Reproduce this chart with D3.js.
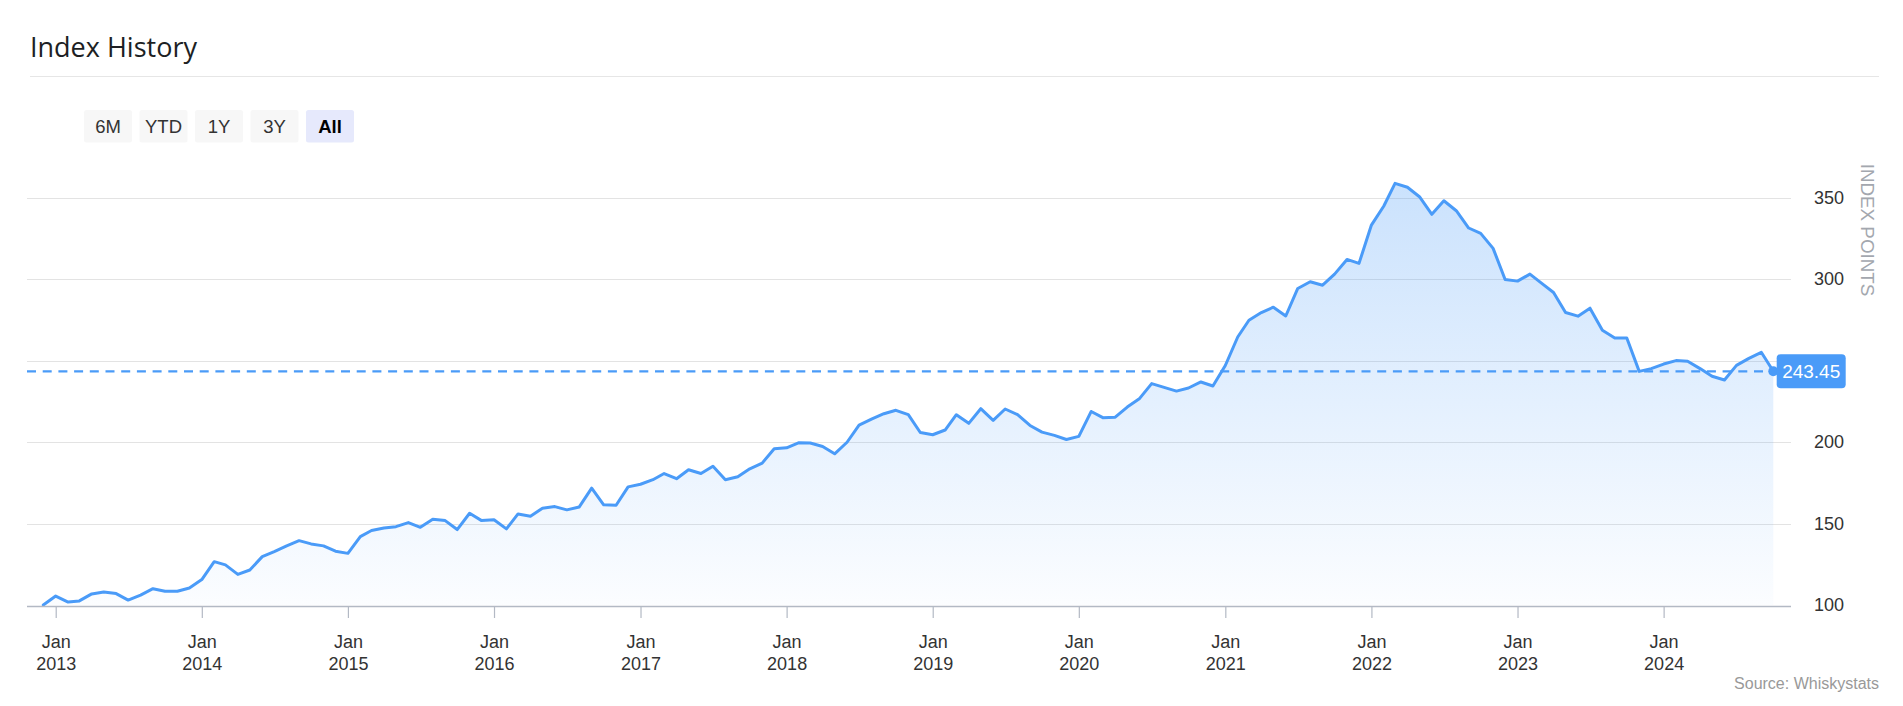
<!DOCTYPE html>
<html>
<head>
<meta charset="utf-8">
<script src="https://cdn.jsdelivr.net/npm/d3@7"></script>
<style>
  html, body { margin: 0; padding: 0; background: #ffffff; }
  svg { display: block; }
</style>
</head>
<body>
<svg id="chart" width="1903" height="706"></svg>
<script>
// ---------------- DATA ----------------
const chartTitle = "Index History";
const rangeButtons = ["6M", "YTD", "1Y", "3Y", "All"];
const activeButton = "All";
const yAxisTitle = "INDEX POINTS";
const sourceText = "Source: Whiskystats";
const startMonth = "2012-12-01";          // first monthly observation
const yTickValues = [100, 150, 200, 250, 300, 350];
const xTickYears = [2013, 2014, 2015, 2016, 2017, 2018, 2019, 2020, 2021, 2022, 2023, 2024];
const xTickMonthLabel = "Jan";
const lastValueLabel = "243.45";
const indexValues = [
  100.0,
  105.5, 101.8, 102.5, 106.8, 108.0, 107.0, 103.0, 106.1, 110.0, 108.4, 108.4, 110.4,
  115.6, 126.6, 124.6, 118.8, 121.5, 129.7, 132.8, 136.3, 139.5, 137.5, 136.3, 133.0,
  131.7, 142.0, 145.7, 147.3, 148.1, 150.6, 147.7, 152.6, 151.8, 146.3, 156.3, 151.8,
  152.3, 146.7, 155.9, 154.5, 159.4, 160.4, 158.4, 160.2, 171.7, 161.5, 161.2, 172.5,
  174.1, 176.9, 180.7, 177.5, 183.0, 180.7, 185.2, 176.9, 178.7, 183.6, 187.1, 195.9,
  196.5, 199.6, 199.4, 197.3, 192.8, 199.9, 210.4, 214.1, 217.4, 219.5, 216.8, 205.9,
  204.5, 207.4, 216.8, 211.5, 220.5, 213.3, 220.3, 216.8, 210.2, 206.1, 204.1, 201.6,
  203.5, 218.8, 215.0, 215.3, 221.5, 226.8, 235.9, 233.6, 231.3, 233.2, 236.9, 234.4,
  247.0, 264.5, 274.8, 279.5, 282.8, 277.4, 294.3, 298.4, 296.3, 303.1, 312.1, 309.7,
  333.2, 344.9, 358.8, 356.4, 350.6, 339.8, 348.1, 342.0, 331.4, 328.1, 318.9, 299.8,
  298.8, 303.1, 297.7, 291.8, 279.5, 277.3, 282.2, 268.6, 263.9, 263.9, 243.4, 245.1,
  247.9, 250.0, 249.6, 245.1, 240.4, 238.1, 247.1, 251.4, 255.1, 243.45
];

// ---------------- LAYOUT ----------------
const blue = "#4a9bf8";
const fontAxis = "'Liberation Sans', Arial, sans-serif";
const plotLeft = 27, plotRight = 1791;

const svg = d3.select("#chart");
const start = d3.utcParse("%Y-%m-%d")(startMonth);
const series = indexValues.map((v, i) => ({ date: d3.utcMonth.offset(start, i), v }));

const x = d3.scaleUtc()
  .domain([series[0].date, series[series.length - 1].date])
  .range([43.3, 1773.3]);
const y = d3.scaleLinear().domain([100, 350]).range([605, 197.7]);

// Title + divider
svg.append("text")
  .attr("x", 30).attr("y", 57)
  .attr("font-family", "'Open Sans', 'Noto Sans', sans-serif")
  .attr("font-size", 27)
  .attr("fill", "#1d1f24")
  .text(chartTitle);
svg.append("line")
  .attr("x1", 30).attr("x2", 1879).attr("y1", 76.5).attr("y2", 76.5)
  .attr("stroke", "#e6e6e6").attr("stroke-width", 1);

// Range buttons
const bx = d3.scaleBand().domain(rangeButtons).range([84, 354]).paddingInner(0.135);
const btn = svg.append("g").selectAll("g").data(rangeButtons).join("g")
  .attr("transform", d => `translate(${bx(d)},110)`);
btn.append("rect")
  .attr("width", bx.bandwidth()).attr("height", 32.5).attr("rx", 2.5)
  .attr("fill", d => d === activeButton ? "#e6e9fc" : "#f7f7f7");
btn.append("text")
  .attr("x", bx.bandwidth() / 2).attr("y", 16.5).attr("dy", "0.35em")
  .attr("text-anchor", "middle")
  .attr("font-family", fontAxis).attr("font-size", 18.5)
  .attr("font-weight", d => d === activeButton ? "bold" : "normal")
  .attr("fill", d => d === activeButton ? "#000" : "#333")
  .text(d => d);

// Gradient
const defs = svg.append("defs");
const grad = defs.append("linearGradient").attr("id", "areaGrad")
  .attr("x1", 0).attr("y1", 0).attr("x2", 0).attr("y2", 1);
grad.append("stop").attr("offset", "0%").attr("stop-color", blue).attr("stop-opacity", 0.29);
grad.append("stop").attr("offset", "100%").attr("stop-color", blue).attr("stop-opacity", 0.02);

// Gridlines
svg.append("g").selectAll("line").data(yTickValues.filter(v => v > 100)).join("line")
  .attr("x1", plotLeft).attr("x2", plotRight)
  .attr("y1", d => Math.round(y(d)) + 0.5).attr("y2", d => Math.round(y(d)) + 0.5)
  .attr("stroke", "#e3e3e3").attr("stroke-width", 1);

// Area + line
svg.append("path").datum(series)
  .attr("fill", "url(#areaGrad)")
  .attr("d", d3.area().x(d => x(d.date)).y0(y(100)).y1(d => y(d.v)));

// Last value dashed line
const last = series[series.length - 1];
svg.append("line")
  .attr("x1", plotLeft).attr("x2", x(last.date))
  .attr("y1", y(last.v)).attr("y2", y(last.v))
  .attr("stroke", blue).attr("stroke-width", 2.2)
  .attr("stroke-dasharray", "9,6.7");

svg.append("path").datum(series)
  .attr("fill", "none").attr("stroke", blue).attr("stroke-width", 3)
  .attr("stroke-linejoin", "round").attr("stroke-linecap", "round")
  .attr("d", d3.line().x(d => x(d.date)).y(d => y(d.v)));

// X axis
const xAxis = d3.axisBottom(x)
  .tickValues(xTickYears.map(yr => Date.UTC(yr, 0, 1)))
  .tickSize(12).tickSizeOuter(0).tickFormat("");
const gx = svg.append("g").attr("transform", `translate(0,${y(100) + 1})`).call(xAxis);
gx.select(".domain").attr("d", `M${plotLeft},0.5H${plotRight}`).attr("stroke", "#b3b9c4").attr("stroke-width", 1.5);
gx.selectAll(".tick line").attr("stroke", "#b3b9c4").attr("stroke-width", 1.2);
gx.selectAll(".tick").each(function (d, i) {
  const t = d3.select(this).select("text")
    .attr("y", 0).attr("dy", null)
    .attr("font-family", fontAxis).attr("font-size", 18).attr("fill", "#333");
  t.append("tspan").attr("x", 0).attr("y", 42).text(xTickMonthLabel);
  t.append("tspan").attr("x", 0).attr("y", 64).text(xTickYears[i]);
});

// Last point marker + badge geometry (the badge covers any y label it overlaps)
const badgeTop = y(last.v) - 17, badgeBottom = y(last.v) + 17;

// Y axis labels (right)
const yAxis = d3.axisRight(y).tickValues(yTickValues).tickSize(0).tickPadding(0);
const gy = svg.append("g").attr("transform", "translate(1844,0)").call(yAxis);
gy.select(".domain").remove();
gy.selectAll(".tick text")
  .attr("text-anchor", "end").attr("x", 0)
  .attr("font-family", fontAxis).attr("font-size", 18).attr("fill", "#333");
gy.selectAll(".tick").filter(d => y(d) + 9 > badgeTop && y(d) - 9 < badgeBottom).remove();

svg.append("text")
  .attr("transform", "translate(1868,230) rotate(90)")
  .attr("text-anchor", "middle").attr("dy", "0.35em")
  .attr("font-family", fontAxis).attr("font-size", 18.8)
  .attr("fill", "#a3a7ae")
  .text(yAxisTitle);

svg.append("circle").attr("cx", x(last.date)).attr("cy", y(last.v)).attr("r", 5).attr("fill", blue);
const badge = svg.append("g").attr("transform", `translate(${x(last.date) + 3.4},${y(last.v)})`);
badge.append("rect").attr("x", 0).attr("y", -17).attr("width", 69).attr("height", 34)
  .attr("rx", 4).attr("fill", blue);
badge.append("text").attr("x", 34.5).attr("dy", "0.35em").attr("text-anchor", "middle")
  .attr("font-family", fontAxis).attr("font-size", 19).attr("fill", "#fff")
  .text(lastValueLabel);

// Source credit
svg.append("text")
  .attr("x", 1879).attr("y", 689).attr("text-anchor", "end")
  .attr("font-family", fontAxis).attr("font-size", 16).attr("fill", "#999")
  .text(sourceText);
</script>
</body>
</html>
